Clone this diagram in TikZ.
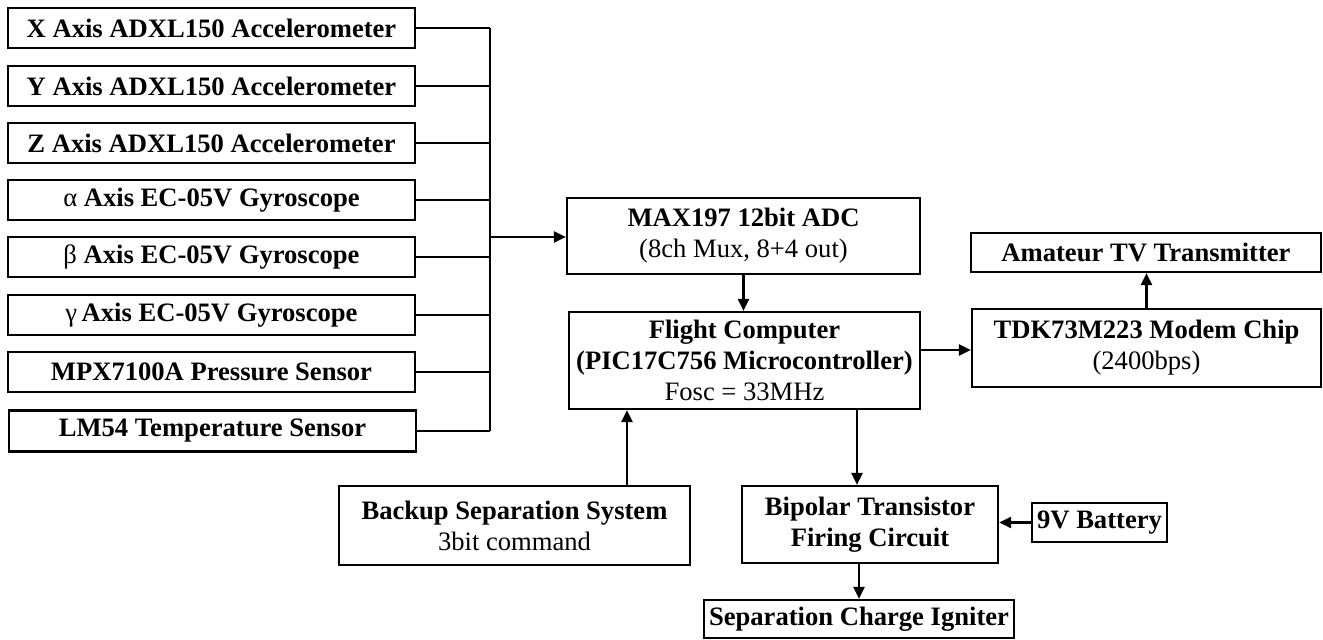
\documentclass[tikz,border=0pt]{standalone}
\usepackage{fontspec}
\setmainfont{Liberation Serif}
\usetikzlibrary{arrows.meta}
\tikzset{
  blk/.style={draw, line width=2.2pt, inner sep=0pt, align=center,
    font=\fontsize{26.6}{31}\selectfont\bfseries},
  arr/.style={line width=2.2pt, -{Triangle[length=12pt,width=11pt]}},
  ln/.style={line width=2.2pt},
}
\newcommand{\rg}[1]{{\mdseries #1}}
\begin{document}
\begin{tikzpicture}[x=1pt,y=-1pt]
\useasboundingbox (0,0) rectangle (1323,640);
% left sensors
\node[blk, minimum width=407pt, minimum height=40pt] (s1) at (211.5,28) {X Axis ADXL150 Accelerometer};
\node[blk, minimum width=407pt, minimum height=40pt] (s2) at (211.5,86) {Y Axis ADXL150 Accelerometer};
\node[blk, minimum width=407pt, minimum height=40pt] (s3) at (211.5,143) {Z Axis ADXL150 Accelerometer};
\node[blk, minimum width=407pt, minimum height=40pt] (s4) at (211.5,200) {\rg{α} Axis EC-05V Gyroscope};
\node[blk, minimum width=407pt, minimum height=40pt] (s5) at (211.5,257) {\rg{β} Axis EC-05V Gyroscope};
\node[blk, minimum width=407pt, minimum height=40pt] (s6) at (211.5,315) {\rg{γ}\,Axis EC-05V Gyroscope};
\node[blk, minimum width=407pt, minimum height=40pt] (s7) at (211.5,372) {MPX7100A Pressure Sensor};
\node[blk, minimum width=407pt, minimum height=41pt] (s8) at (212.5,431) {LM54 Temperature Sensor};
% centre
\node[blk, minimum width=353pt, minimum height=76pt] (max) at (743.5,236) {MAX197 12bit ADC\\\rg{(8ch Mux, 8+4 out)}};
\node[blk, minimum width=351pt, minimum height=97pt] (fc) at (744.5,360.5) {Flight Computer\\(PIC17C756 Microcontroller)\\\rg{Fosc = 33MHz}};
\node[blk, minimum width=349pt, minimum height=78pt] (tdk) at (1146.5,348) {TDK73M223 Modem Chip\\\rg{(2400bps)}};
\node[blk, minimum width=350pt, minimum height=39pt] (atv) at (1146,252.5) {Amateur TV Transmitter};
\node[blk, minimum width=351pt, minimum height=79pt] (bk) at (514.5,525.5) {Backup Separation System\\\rg{3bit command}};
\node[blk, minimum width=256pt, minimum height=77pt] (bip) at (870,524.5) {Bipolar Transistor\\Firing Circuit};
\node[blk, minimum width=135pt, minimum height=39pt] (bat) at (1099.5,522.5) {9V Battery};
\node[blk, minimum width=310pt, minimum height=38pt] (sep) at (859,619) {Separation Charge Igniter};
% bus
\coordinate (bus) at (490,0);
\foreach \n in {s1,s2,s3,s4,s5,s6,s7,s8}{
  \draw[ln] (\n.east) -- (\n.east -| bus);
}
\draw[ln] (bus |- s1.east) -- (bus |- s8.east);
\coordinate (busout) at (490,237);
\draw[arr] (busout) -- (busout -| max.west);
% connections
\draw[arr] (max.south) -- (max.south |- fc.north);
\coordinate (fcout) at (920,350);
\draw[arr] (fcout) -- (fcout -| tdk.west);
\draw[arr] (tdk.north) -- (tdk.north |- atv.south);
\coordinate (cbk) at (627,0);
\draw[arr] (cbk |- bk.north) -- (cbk |- fc.south);
\coordinate (cfb) at (857,0);
\draw[arr] (cfb |- fc.south) -- (cfb |- bip.north);
\draw[arr] (bat.west) -- (bat.west -| bip.east);
\draw[arr] (sep.north |- bip.south) -- (sep.north);
\end{tikzpicture}
\end{document}
